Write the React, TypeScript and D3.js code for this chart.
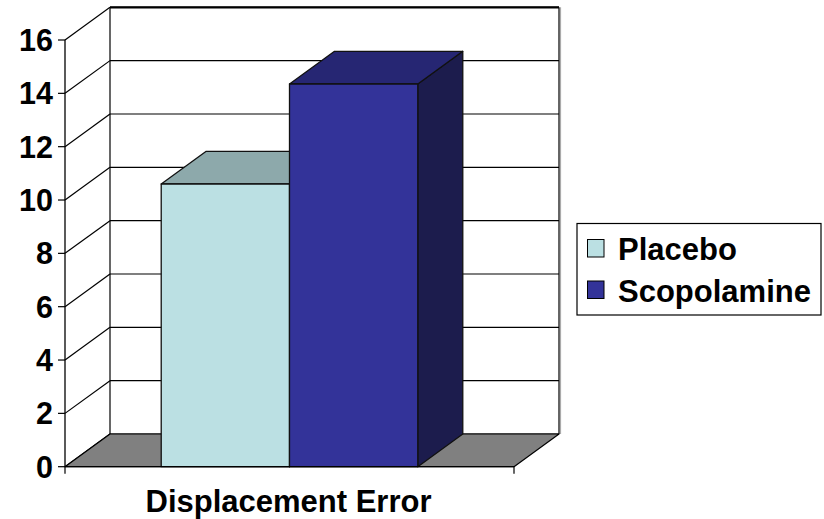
import React from "react";
import * as d3 from "d3";

const categories = ["Displacement Error"];
const seriesNames = ["Placebo", "Scopolamine"];
const placeboValues = [10.6];
const scopolamineValues = [14.35];
const yTicks = [0, 2, 4, 6, 8, 10, 12, 14, 16];

const seriesColors = [
  { front: "#BBE0E3", top: "#8DA9AB", side: "#7E9799" },
  { front: "#333399", top: "#262673", side: "#1C1C4D" },
];

const W = 824;
const H = 519;
const FONT = "'Liberation Sans', Arial, sans-serif";

export default function App() {
  const x0 = 65;
  const x1 = 514;
  const dx = 45;
  const dy = -32.7;
  const yFront = d3.scaleLinear().domain([0, 16]).range([466.7, 40]);
  const yBack = (v: number) => yFront(v) + dy;

  const cat = d3.scaleBand<string>().domain(categories).range([x0, x1]).padding(0);
  const catW = cat.bandwidth();
  const gap = (catW * 0.75) / 3.5;

  const data = [placeboValues, scopolamineValues];

  const wallL = x0 + dx;
  const wallR = x1 + dx;

  return (
    <svg
      width={W}
      height={H}
      style={{ position: "absolute", left: 0, top: 0, background: "#fff" }}
      fontFamily={FONT}
    >
      {/* side wall */}
      <polygon
        points={`${x0},${yFront(0)} ${wallL},${yBack(0)} ${wallL},${yBack(16)} ${x0},${yFront(16)}`}
        fill="#fff"
        stroke="none"
      />
      {/* back wall */}
      <rect x={wallL} y={yBack(16)} width={wallR - wallL} height={yBack(0) - yBack(16)} fill="#fff" />
      {/* back gridlines */}
      {yTicks.map((t) => (
        <line key={"bg" + t} x1={wallL} x2={wallR} y1={yBack(t)} y2={yBack(t)} stroke="#000" strokeWidth={1.2} />
      ))}
      {/* side gridlines */}
      {yTicks.map((t) => (
        <line key={"sg" + t} x1={x0} x2={wallL} y1={yFront(t)} y2={yBack(t)} stroke="#000" strokeWidth={1.2} />
      ))}
      <line x1={wallL} x2={wallL} y1={yBack(0)} y2={yBack(16)} stroke="#000" strokeWidth={1.2} />
      <line x1={wallR + 1.5} x2={wallR + 1.5} y1={yBack(0)} y2={yBack(16)} stroke="#aaa" strokeWidth={1.2} />
      <line x1={wallR} x2={wallR} y1={yBack(0)} y2={yBack(16)} stroke="#000" strokeWidth={1.2} />
      <line x1={wallL} x2={wallR} y1={yBack(16)} y2={yBack(16)} stroke="#000" strokeWidth={2.2} />
      {/* floor */}
      <polygon
        points={`${x0},${yFront(0)} ${wallL},${yBack(0)} ${wallR},${yBack(0)} ${x1},${yFront(0)}`}
        fill="#808080"
        stroke="#000"
        strokeWidth={1.2}
        strokeLinejoin="round"
      />
      {/* bars */}
      {categories.map((c, ci) => {
        const sx = d3
          .scaleBand<string>()
          .domain(seriesNames)
          .range([(cat(c) as number) + gap, (cat(c) as number) + catW - gap])
          .padding(0);
        return seriesNames.map((s, si) => {
          const v = data[si][ci];
          const bx = sx(s) as number;
          const bw = sx.bandwidth();
          const yt = yFront(v);
          const yb = yFront(0);
          const col = seriesColors[si];
          return (
            <g key={s} stroke="#111" strokeWidth={1.3} strokeLinejoin="round">
              <polygon
                points={`${bx + bw},${yt} ${bx + bw + dx},${yt + dy} ${bx + bw + dx},${yb + dy} ${bx + bw},${yb}`}
                fill={col.side}
              />
              <polygon
                points={`${bx},${yt} ${bx + dx},${yt + dy} ${bx + bw + dx},${yt + dy} ${bx + bw},${yt}`}
                fill={col.top}
              />
              <rect x={bx} y={yt} width={bw} height={yb - yt} fill={col.front} />
            </g>
          );
        });
      })}
      {/* axes */}
      <line x1={x0} x2={x0} y1={yFront(0)} y2={yFront(16)} stroke="#000" strokeWidth={1.3} />
      <line x1={x0} x2={x1} y1={yFront(0)} y2={yFront(0)} stroke="#000" strokeWidth={1.3} />
      {yTicks.map((t) => (
        <g key={"t" + t}>
          <line x1={x0 - 7} x2={x0} y1={yFront(t)} y2={yFront(t)} stroke="#000" strokeWidth={1.2} />
          <text
            x={53}
            y={yFront(t)}
            dy="0.36em"
            textAnchor="end"
            fontSize={30.5}
            fontWeight="bold"
            fill="#000"
          >
            {t}
          </text>
        </g>
      ))}
      {[x0, x1].map((x) => (
        <line key={"xt" + x} x1={x} x2={x} y1={yFront(0)} y2={yFront(0) + 7} stroke="#000" strokeWidth={1.2} />
      ))}
      {categories.map((c) => (
        <text
          key={c}
          x={(cat(c) as number) + catW / 2 - 1}
          y={511.5}
          textAnchor="middle"
          fontSize={31}
          fontWeight="bold"
          fill="#000"
        >
          {c}
        </text>
      ))}
      {/* legend */}
      <rect x={577} y={223.5} width={244} height={91.5} fill="#fff" stroke="#000" strokeWidth={1.2} />
      {seriesNames.map((s, i) => {
        const base = [260, 301.5][i];
        return (
          <g key={"lg" + s}>
            <rect x={587.5} y={base - 20.5} width={16.5} height={17.5} fill={seriesColors[i].front} stroke="#000" strokeWidth={1} />
            <text x={618} y={base} fontSize={31} fontWeight="bold" fill="#000">
              {s}
            </text>
          </g>
        );
      })}
    </svg>
  );
}
